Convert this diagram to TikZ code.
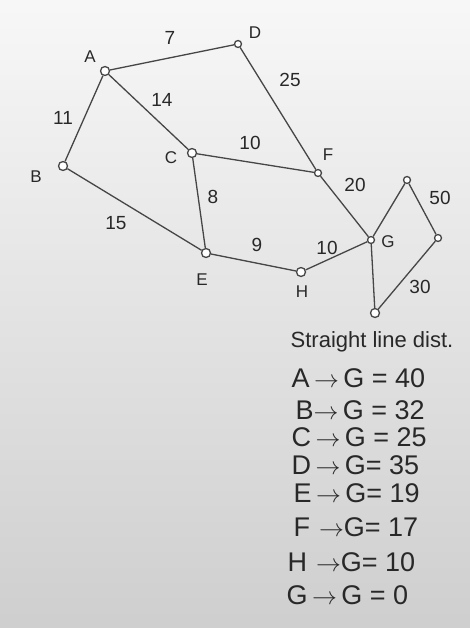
\documentclass[tikz,border=0pt]{standalone}
\usepackage{fontspec}
\setmainfont{Liberation Sans}
\usepackage{tikz}
\usepackage{xcolor}
\usetikzlibrary{positioning,arrows.meta,shapes,calc}

\definecolor{pencil}{RGB}{70,70,70}
\definecolor{ink}{RGB}{40,40,40}

\tikzset{
    vertex/.style={circle,draw=pencil,fill=white,line width=1.3pt,minimum size=9pt,inner sep=0pt},
    smallvertex/.style={vertex,minimum size=7pt},
    edge/.style={draw=pencil,line width=1.3pt},
    vname/.style={text=ink,font=\fontsize{17}{17}\selectfont},
    weight/.style={text=ink,font=\fontsize{19}{19}\selectfont},
    heuristic/.style={text=ink,anchor=west,font=\fontsize{27}{27}\selectfont}
}

\begin{document}
\begin{tikzpicture}[x=1pt,y=-1pt]
    % Paper background
    \shade[top color=gray!6,middle color=gray!10,bottom color=gray!38] (0,0) rectangle (470,628);
    \useasboundingbox (0,0) rectangle (470,628);

    % Vertices
    \node[vertex] (A) at (105,71) {};
    \node[smallvertex] (D) at (238,44) {};
    \node[vertex] (B) at (63,166) {};
    \node[vertex] (C) at (192,153) {};
    \node[smallvertex] (F) at (318,173) {};
    \node[vertex] (E) at (206,253) {};
    \node[vertex] (H) at (301,272) {};
    \node[smallvertex] (G) at (371,240) {};
    \node[smallvertex] (P) at (407,180) {};
    \node[smallvertex] (Q) at (438,238) {};
    \node[vertex] (R) at (375,313) {};

    % Edges
    \draw[edge] (A) -- (D);
    \draw[edge] (A) -- (B);
    \draw[edge] (A) -- (C);
    \draw[edge] (D) -- (F);
    \draw[edge] (C) -- (F);
    \draw[edge] (C) -- (E);
    \draw[edge] (B) -- (E);
    \draw[edge] (E) -- (H);
    \draw[edge] (H) -- (G);
    \draw[edge] (F) -- (G);
    \draw[edge] (G) -- (P);
    \draw[edge] (P) -- (Q);
    \draw[edge] (Q) -- (R);
    \draw[edge] (G) -- (R);

    % Vertex names
    \node[vname] (lA) at (90,57) {A};
    \node[vname] (lD) at (255,33) {D};
    \node[vname] (lB) at (36,177) {B};
    \node[vname] (lC) at (171,158) {C};
    \node[vname] (lF) at (328,155) {F};
    \node[vname] (lE) at (202,280) {E};
    \node[vname] (lH) at (302,292) {H};
    \node[vname] (lG) at (388,242) {G};

    % Edge weights
    \node[weight] (wAD) at (170,38) {7};
    \node[weight] (wDF) at (290,80) {25};
    \node[weight] (wAC) at (162,100) {14};
    \node[weight] (wAB) at (63,118) {11};
    \node[weight] (wCF) at (250,143) {10};
    \node[weight] (wCE) at (213,197) {8};
    \node[weight] (wFG) at (355,185) {20};
    \node[weight] (wPQ) at (440,198) {50};
    \node[weight] (wBE) at (116,223) {15};
    \node[weight] (wEH) at (257,245) {9};
    \node[weight] (wHG) at (327,248) {10};
    \node[weight] (wQR) at (420,287) {30};

    % Straight line distances
    \node[text=ink,font=\fontsize{22}{22}\selectfont] (title) at (372,342) {Straight line dist.};
    \node[heuristic] (hA) at (288,378) {A\,$\rightarrow$\,G = 40};
    \node[heuristic] (hB) at (292,410) {B$\rightarrow$\,G = 32};
    \node[heuristic] (hC) at (288,437) {C\,$\rightarrow$\,G = 25};
    \node[heuristic] (hD) at (288,465) {D\,$\rightarrow$\,G= 35};
    \node[heuristic] (hE) at (290,493) {E\,$\rightarrow$\,G= 19};
    \node[heuristic] (hF) at (290,527) {F\,\,$\rightarrow$G= 17};
    \node[heuristic] (hH) at (284,562) {H\,\,$\rightarrow$G= 10};
    \node[heuristic] (hG) at (283,595) {G\,$\rightarrow$\,G = 0};
\end{tikzpicture}
\end{document}
